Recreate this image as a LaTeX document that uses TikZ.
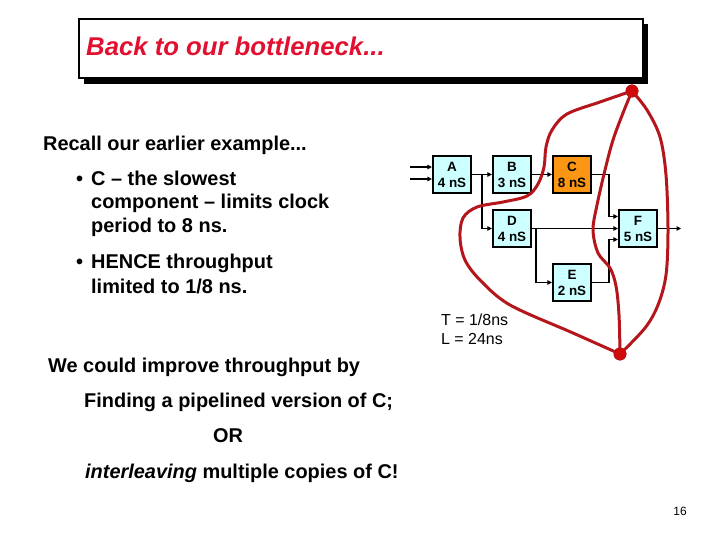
\documentclass[tikz,border=0pt]{standalone}
\usepackage{fontspec}
\setmainfont{Liberation Sans}
\usetikzlibrary{arrows.meta}
\definecolor{titlered}{RGB}{226,16,48}
\definecolor{loopred}{RGB}{180,22,28}
\definecolor{dotred}{RGB}{210,10,10}
\definecolor{boxcyan}{RGB}{204,255,255}
\definecolor{boxorange}{RGB}{250,150,20}
\tikzset{
  stage/.style={draw=black, line width=2.2bp, fill=boxcyan, minimum width=38bp,
    minimum height=37bp, inner sep=0pt, align=center,
    font=\fontsize{13.5}{16}\selectfont\bfseries},
  wire/.style={line width=1.8bp, -{Triangle[length=4.5bp,width=4.5bp]}},
  loopline/.style={draw=loopred, line width=3bp, line join=round, line cap=round},
  bigdot/.style={circle, fill=dotred, draw=loopred, line width=0.8bp,
    minimum size=12bp, inner sep=0pt},
  body/.style={anchor=base west, inner sep=0pt,
    font=\fontsize{20}{24}\selectfont\bfseries},
}
\begin{document}
\begin{tikzpicture}[x=1bp,y=-1bp]
\useasboundingbox (0,0) rectangle (720,540);
% title box
\fill[black] (84,24) rectangle (648,84);
\draw[line width=2bp, fill=white] (79,19) rectangle (643,78);
\node[anchor=base west, inner sep=0pt, text=titlered,
  font=\fontsize{25.8}{30}\selectfont\bfseries\itshape] (title) at (86,56) {Back to our bottleneck...};
% left text
\node[body] (recall) at (43,151) {Recall our earlier example...};
\node[body] (b1) at (76,186) {\textbullet};
\node[body] (l1) at (91,186) {C -- the slowest};
\node[body] (l2) at (91,209) {component -- limits clock};
\node[body] (l3) at (91,233) {period to 8 ns.};
\node[body] (b2) at (76,269) {\textbullet};
\node[body] (l4) at (91,269) {HENCE throughput};
\node[body] (l5) at (91,293) {limited to 1/8 ns.};
\node[body] (we) at (48,372) {We could improve throughput by};
\node[body] (find) at (84,407) {Finding a pipelined version of C;};
\node[body] (or) at (213,442) {OR};
\node[body] (inter) at (85,478) {\textit{interleaving} multiple copies of C!};
\node[anchor=base west, inner sep=0pt, font=\fontsize{16}{19}\selectfont] (T) at (441,325) {T = 1/8ns};
\node[anchor=base west, inner sep=0pt, font=\fontsize{16}{19}\selectfont] (L) at (441,344) {L = 24ns};
\node[font=\fontsize{12}{14}\selectfont] (page) at (680,511) {16};
% stages
\node[stage] (A) at (452,174.5) {A\\4 nS};
\node[stage] (B) at (512,174.5) {B\\3 nS};
\node[stage, fill=boxorange] (C) at (572,174.5) {C\\8 nS};
\node[stage] (D) at (512,228.5) {D\\4 nS};
\node[stage] (E) at (572,282.5) {E\\2 nS};
\node[stage] (F) at (638,228.5) {F\\5 nS};
% wires
\coordinate (in1) at (410,167);
\coordinate (in2) at (410,179);
\coordinate (j1) at (482,174.5);
\coordinate (j2) at (536,228.5);
\coordinate (out) at (681,228.5);
\draw[wire] (in1) -- (in1 -| A.west);
\draw[wire] (in2) -- (in2 -| A.west);
\draw[wire] (A.east) -- (B.west);
\draw[wire] (j1) |- (D.west);
\draw[wire] (B.east) -- (C.west);
\draw[wire] (C.east) -- ++(17,0) |- ([yshift=12bp]F.west);
\draw[wire] (D.east) -- (F.west);
\draw[wire] (j2) |- (E.west);
\draw[wire] (E.east) -- ++(17,0) |- ([yshift=-11bp]F.west);
\draw[wire] (F.east) -- (out);
% dots
\node[bigdot] (top) at (632,91) {};
\node[bigdot] (bot) at (620,354) {};
% loops
\draw[loopline] plot[smooth, tension=0.55] coordinates {(top.center) (600,102) (567,114) (552,130) (546,147) (544,167) (538,184) (527,196) (503,202) (477,207) (463,218) (460,238) (465,260) (480,280) (510,305) (573,333) (bot.center)};
\draw[loopline] plot[smooth, tension=0.55] coordinates {(top.center) (623,113) (613,140) (605,170) (597,205) (593,230) (598,253) (610,268) (616,286) (619,315) (bot.center)};
\draw[loopline] plot[smooth, tension=0.55] coordinates {(top.center) (647,110) (660,137) (666,175) (668,230) (666,275) (658,305) (645,328) (bot.center)};
\node[bigdot] at (top) {};
\node[bigdot] at (bot) {};
\end{tikzpicture}
\end{document}
